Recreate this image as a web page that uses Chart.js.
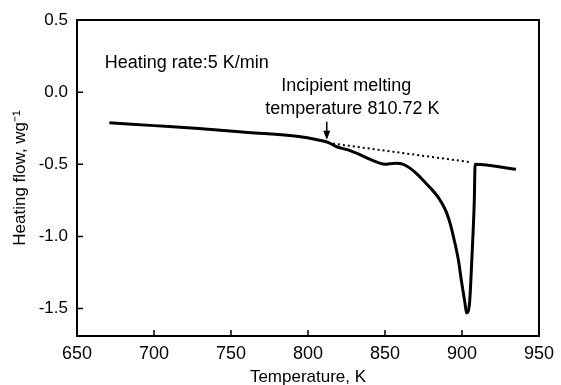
<!DOCTYPE html>
<html>
<head>
<meta charset="utf-8">
<script src="https://cdn.jsdelivr.net/npm/chart.js"></script>
<style>
  html, body { margin: 0; padding: 0; background: #fff; }
</style>
</head>
<body>
<canvas id="dsc" width="561" height="385"></canvas>
<script>
// DSC curve
const temperature = [671, 700, 729, 761, 794, 806, 813, 819, 826, 833, 840, 846, 850, 853, 857, 862, 866, 871, 876, 880, 884, 887, 890, 892.3, 894.4, 897.6, 899.8, 901.9, 903, 905, 906, 907, 908, 908.5, 935];
const heatFlow    = [-0.212, -0.232, -0.252, -0.279, -0.308, -0.33, -0.348, -0.38, -0.40, -0.43, -0.465, -0.49, -0.50, -0.497, -0.493, -0.50, -0.525, -0.57, -0.625, -0.67, -0.72, -0.77, -0.835, -0.91, -1.0, -1.16, -1.32, -1.46, -1.53, -1.45, -1.25, -1.02, -0.75, -0.50, -0.535];

// extrapolated baseline (dotted)
const baseTemp = [813, 906];
const baseFlow = [-0.352, -0.486];

const xTicks = [650, 700, 750, 800, 850, 900, 950];
const yTicks = [0.5, 0.0, -0.5, -1.0, -1.5];

const FONT = "'Liberation Sans', Arial, sans-serif";

// annotations, placed in data units
const notes = [
  { text: 'Heating rate:5 K/min', x: 668, y: 0.199 },
  { text: 'Incipient melting', x: 782.6, y: 0.041 },
  { text: 'temperature 810.72 K', x: 772.3, y: -0.116 }
];
const arrowAt = { x: 812.2, from: -0.205, to: -0.33 };

function toPoints(xs, ys) {
  return xs.map((x, i) => ({ x: x, y: ys[i] }));
}

const framePlugin = {
  id: 'frame',
  afterDatasetsDraw(chart) {
    const ctx = chart.ctx;
    const a = chart.chartArea;
    const xs = chart.scales.x, ys = chart.scales.y;
    ctx.save();
    ctx.strokeStyle = '#000';
    ctx.lineWidth = 2;
    ctx.strokeRect(a.left, a.top, a.right - a.left, a.bottom - a.top);

    // inward tick marks
    ctx.lineWidth = 1.5;
    ctx.beginPath();
    xTicks.forEach(v => {
      const px = xs.getPixelForValue(v);
      ctx.moveTo(px, a.bottom);
      ctx.lineTo(px, a.bottom - 6);
    });
    yTicks.forEach(v => {
      const py = ys.getPixelForValue(v);
      ctx.moveTo(a.left, py);
      ctx.lineTo(a.left + 6, py);
    });
    ctx.stroke();

    // texts
    ctx.fillStyle = '#000';
    ctx.font = '18px ' + FONT;
    ctx.textBaseline = 'middle';
    ctx.textAlign = 'left';
    notes.forEach(n => {
      ctx.fillText(n.text, xs.getPixelForValue(n.x), ys.getPixelForValue(n.y));
    });

    // arrow
    const ax = xs.getPixelForValue(arrowAt.x);
    const y1 = ys.getPixelForValue(arrowAt.from);
    const y2 = ys.getPixelForValue(arrowAt.to);
    ctx.lineWidth = 1.5;
    ctx.beginPath();
    ctx.moveTo(ax, y1);
    ctx.lineTo(ax, y2 - 2);
    ctx.stroke();
    ctx.beginPath();
    ctx.moveTo(ax, y2);
    ctx.lineTo(ax - 3.5, y2 - 9);
    ctx.lineTo(ax + 3.5, y2 - 9);
    ctx.closePath();
    ctx.fill();
    ctx.restore();
  }
};

new Chart(document.getElementById('dsc'), {
  type: 'scatter',
  data: {
    datasets: [
      {
        data: toPoints(temperature, heatFlow),
        showLine: true,
        borderColor: '#000',
        borderWidth: 3,
        pointRadius: 0,
        cubicInterpolationMode: 'monotone'
      },
      {
        data: toPoints(baseTemp, baseFlow),
        showLine: true,
        borderColor: '#000',
        borderWidth: 2,
        borderDash: [2, 3],
        pointRadius: 0
      }
    ]
  },
  options: {
    responsive: false,
    devicePixelRatio: 1,
    animation: false,
    layout: { padding: { top: 20, right: 18, left: 0, bottom: 0 } },
    plugins: { legend: { display: false }, tooltip: { enabled: false } },
    scales: {
      x: {
        type: 'linear',
        min: 650,
        max: 950,
        afterBuildTicks: s => { s.ticks = xTicks.map(v => ({ value: v })); },
        afterFit: s => { s.height = 49; },
        grid: { display: false, drawTicks: false },
        border: { display: false },
        ticks: { color: '#000', font: { family: FONT, size: 18 }, padding: 7, maxRotation: 0 },
        title: {
          display: true,
          text: 'Temperature, K',
          color: '#000',
          font: { family: FONT, size: 17, lineHeight: 0.9 },
          padding: 0
        }
      },
      y: {
        min: -1.69,
        max: 0.5,
        afterBuildTicks: s => { s.ticks = yTicks.map(v => ({ value: v })); },
        afterFit: s => { s.width = 77; },
        grid: { display: false, drawTicks: false },
        border: { display: false },
        ticks: {
          color: '#000',
          font: { family: FONT, size: 17 },
          padding: 9,
          callback: v => v.toFixed(1)
        },
        title: {
          display: true,
          text: 'Heating flow, wg\u207B\u00B9',
          color: '#000',
          font: { family: FONT, size: 17 },
          padding: { top: 10, bottom: 0 }
        }
      }
    }
  },
  plugins: [framePlugin]
});
</script>
</body>
</html>
